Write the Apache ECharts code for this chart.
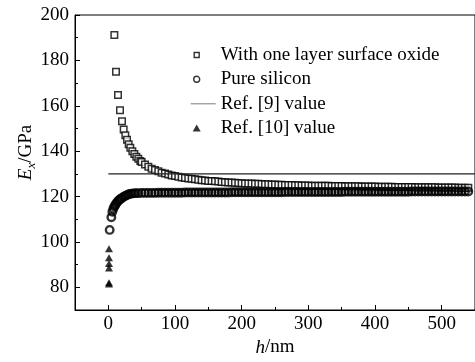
<!DOCTYPE html>
<html>
<head>
<meta charset="utf-8">
<script src="https://cdn.jsdelivr.net/npm/echarts@6/dist/echarts.min.js"></script>
<style>
  html, body { margin: 0; padding: 0; background: #fff; }
  #chart { width: 475px; height: 362px; }
</style>
</head>
<body>
<div id="chart"></div>
<script>
// h (nm) positions shared by the dense part of both curves
let hTail = [
  50, 55, 60, 65, 70, 75, 80, 85, 90, 95,
  100, 105, 110, 115, 120, 125, 130, 135, 140, 145,
  150, 155, 160, 165, 170, 175, 180, 185, 190, 195,
  200, 205, 210, 215, 220, 225, 230, 235, 240, 245,
  250, 255, 260, 265, 270, 275, 280, 285, 290, 295,
  300, 305, 310, 315, 320, 325, 330, 335, 340, 345,
  350, 355, 360, 365, 370, 375, 380, 385, 390, 395,
  400, 405, 410, 415, 420, 425, 430, 435, 440, 445,
  450, 455, 460, 465, 470, 475, 480, 485, 490, 495,
  500, 505, 510, 515, 520, 525, 530, 535, 540
];

// With one layer surface oxide (squares)
let hOxide = [9, 11.5, 14.5, 17.5, 20.5, 23, 25.5, 28, 30.5, 33, 36, 39, 42, 45, 48].concat(hTail);
let eOxide = [
  191.2, 175.0, 164.8, 158.0, 153.2, 149.5, 147.0, 145.0, 143.0, 141.5, 140.0, 138.7, 137.5, 136.6, 135.7,
  135.2, 134.1, 133.1, 132.3, 131.7, 131.1, 130.5, 130.1, 129.7, 129.3,
  129.0, 128.7, 128.4, 128.2, 128.0, 127.8, 127.6, 127.4, 127.2, 127.1,
  126.9, 126.8, 126.7, 126.6, 126.4, 126.3, 126.2, 126.2, 126.1, 126.0,
  125.9, 125.8, 125.8, 125.7, 125.6, 125.6, 125.5, 125.4, 125.4, 125.3,
  125.3, 125.2, 125.2, 125.1, 125.1, 125.1, 125.0, 125.0, 124.9, 124.9,
  124.9, 124.8, 124.8, 124.8, 124.7, 124.7, 124.7, 124.6, 124.6, 124.6,
  124.6, 124.5, 124.5, 124.5, 124.5, 124.5, 124.4, 124.4, 124.4, 124.4,
  124.4, 124.3, 124.3, 124.3, 124.3, 124.3, 124.2, 124.2, 124.2, 124.2,
  124.2, 124.2, 124.1, 124.1, 124.1, 124.1, 124.1, 124.1, 124.1, 124.0,
  124.0, 124.0, 124.0, 124.0, 124.0, 123.9, 123.9, 123.9, 123.9
];

// Pure silicon (circles)
let hSilicon = [2, 4.5, 6, 7.5, 9, 10.5, 12, 14, 16, 18, 20, 23, 26, 29, 32, 35, 38, 41, 45].concat(hTail);
let eSilicon = [
  105.3, 110.9, 113.3, 114.6, 115.6, 116.3, 117.0, 117.8, 118.4, 118.9, 119.3, 119.9, 120.4, 120.8, 121.1, 121.3, 121.4, 121.5, 121.5,
  121.6, 121.6, 121.6, 121.6, 121.6, 121.7, 121.7, 121.7, 121.7, 121.7,
  121.7, 121.7, 121.7, 121.8, 121.8, 121.8, 121.8, 121.8, 121.8, 121.8,
  121.8, 121.8, 121.8, 121.8, 121.8, 121.8, 121.8, 121.9, 121.9, 121.9,
  121.9, 121.9, 121.9, 121.9, 121.9, 121.9, 121.9, 121.9, 121.9, 121.9,
  121.9, 121.9, 121.9, 122.0, 122.0, 122.0, 122.0, 122.0, 122.0, 122.0,
  122.0, 122.0, 122.0, 122.0, 122.0, 122.0, 122.0, 122.0, 122.0, 122.0,
  122.0, 122.1, 122.1, 122.1, 122.1, 122.1, 122.1, 122.1, 122.1, 122.1,
  122.1, 122.1, 122.1, 122.1, 122.1, 122.1, 122.1, 122.1, 122.1, 122.1,
  122.1, 122.2, 122.2, 122.2, 122.2, 122.2, 122.2, 122.2, 122.2, 122.2,
  122.2, 122.2, 122.2, 122.2, 122.2, 122.2, 122.2, 122.2, 122.2
];

// Ref. [9] value (horizontal line)
let hRef9 = [0, 550];
let eRef9 = [130, 130];

// Ref. [10] value (triangles)
let hRef10 = [1, 1, 1, 1, 1, 1];
let eRef10 = [97, 93, 90.5, 88.5, 82, 81.5];

let legendNames = ['With one layer surface oxide', 'Pure silicon', 'Ref. [9] value', 'Ref. [10] value'];

function pairs(xs, ys) {
  return xs.map(function (x, i) { return [x, ys[i]]; });
}

let font = "'Liberation Serif', 'Times New Roman', serif";

let chart = echarts.init(document.getElementById('chart'), null, { renderer: 'canvas' });

let gridBox = { left: 75, right: -1, top: 15, bottom: 52 };

let option = {
  animation: false,
  backgroundColor: '#fff',
  grid: [
    Object.assign({ show: true, borderColor: '#000', borderWidth: 1, backgroundColor: 'transparent' }, gridBox),
    Object.assign({ show: false }, gridBox)
  ],
  legend: {
    orient: 'vertical',
    left: 190,
    top: 45,
    padding: 0,
    itemWidth: 25,
    itemHeight: 7,
    itemGap: 4.3,
    textStyle: { fontFamily: font, fontSize: 19, color: '#000', lineHeight: 20 },
    data: [
      { name: legendNames[0], icon: 'path://M3.5,1h5v5h-5z M0,0 M25,7', itemStyle: { borderWidth: 1.4 } },
      { name: legendNames[1], icon: 'path://M3,3.5a3,3 0 1,0 6,0a3,3 0 1,0 -6,0z M0,0 M25,7', itemStyle: { borderWidth: 1.4 } },
      { name: legendNames[2], icon: 'path://M0,3h25v1.3h-25z M0,0 M25,7', itemStyle: { color: '#999', borderWidth: 0 } },
      { name: legendNames[3], icon: 'path://M6,0L10,7L2,7z M0,0 M25,7' }
    ]
  },
  xAxis: [
    {
      gridIndex: 0,
      type: 'value',
      min: -50,
      max: 550,
      splitNumber: 6,
      minInterval: 100,
      maxInterval: 100,
      axisLine: { show: true, onZero: false, lineStyle: { color: '#000', width: 1 } },
      axisTick: { show: true, inside: true, length: 5, lineStyle: { color: '#000', width: 1 } },
      axisLabel: { fontFamily: font, fontSize: 19, color: '#000', margin: 5, showMinLabel: false, showMaxLabel: false },
      splitLine: { show: false },
      name: '{i|h}{n|/nm}',
      nameLocation: 'middle',
      nameMoveOverlap: false,
      nameGap: 28,
      nameTextStyle: {
        rich: {
          i: { fontFamily: font, fontSize: 19, fontStyle: 'italic', color: '#000' },
          n: { fontFamily: font, fontSize: 19, color: '#000' }
        }
      }
    },
    {
      gridIndex: 1,
      type: 'value',
      min: -50,
      max: 550,
      interval: 50,
      axisLine: { show: false, onZero: false },
      axisTick: { show: true, inside: true, length: 3, lineStyle: { color: '#000', width: 1 } },
      axisLabel: { show: false },
      splitLine: { show: false }
    }
  ],
  yAxis: [
    {
      gridIndex: 0,
      type: 'value',
      min: 70,
      max: 200,
      splitNumber: 6,
      minInterval: 20,
      maxInterval: 20,
      axisLine: { show: true, onZero: false, lineStyle: { color: '#000', width: 1 } },
      axisTick: { show: true, inside: true, length: 5, lineStyle: { color: '#000', width: 1 } },
      axisLabel: { fontFamily: font, fontSize: 19, color: '#000', margin: 6, showMinLabel: false },
      splitLine: { show: false },
      name: '{e|E}{s|x}{n|/GPa}',
      nameLocation: 'middle',
      nameMoveOverlap: false,
      nameGap: 37,
      nameTextStyle: {
        padding: [0, 0, 0, 20],
        rich: {
          e: { fontFamily: font, fontSize: 19, fontStyle: 'italic', color: '#000', lineHeight: 24, verticalAlign: 'middle' },
          s: { fontFamily: font, fontSize: 13, fontStyle: 'italic', color: '#000', lineHeight: 12, verticalAlign: 'bottom' },
          n: { fontFamily: font, fontSize: 19, color: '#000', lineHeight: 24, verticalAlign: 'middle' }
        }
      }
    },
    {
      gridIndex: 1,
      type: 'value',
      min: 70,
      max: 200,
      interval: 10,
      axisLine: { show: false, onZero: false },
      axisTick: { show: true, inside: true, length: 3, lineStyle: { color: '#000', width: 1 } },
      axisLabel: { show: false },
      splitLine: { show: false }
    }
  ],
  series: [
    {
      name: legendNames[0],
      type: 'scatter',
      xAxisIndex: 0,
      yAxisIndex: 0,
      symbol: 'rect',
      symbolSize: 6.5,
      itemStyle: { color: '#fff', borderColor: '#000', borderWidth: 1.5 },
      data: pairs(hOxide, eOxide)
    },
    {
      name: legendNames[1],
      type: 'scatter',
      xAxisIndex: 0,
      yAxisIndex: 0,
      symbol: 'circle',
      symbolSize: 7.5,
      itemStyle: { color: 'rgba(255,255,255,0)', borderColor: '#000', borderWidth: 2.4 },
      data: pairs(hSilicon, eSilicon)
    },
    {
      name: legendNames[2],
      type: 'line',
      xAxisIndex: 0,
      yAxisIndex: 0,
      symbol: 'none',
      showSymbol: false,
      lineStyle: { color: '#222', width: 1.3 },
      itemStyle: { color: '#222' },
      data: pairs(hRef9, eRef9)
    },
    {
      name: legendNames[3],
      type: 'scatter',
      xAxisIndex: 0,
      yAxisIndex: 0,
      symbol: 'triangle',
      symbolSize: [8, 7],
      itemStyle: { color: '#000' },
      data: pairs(hRef10, eRef10)
    }
  ]
};

chart.setOption(option);
</script>
</body>
</html>
